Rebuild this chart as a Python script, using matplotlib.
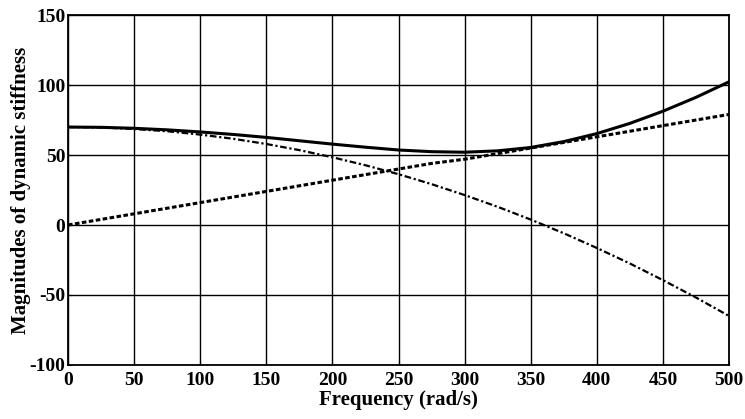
import numpy as np
import matplotlib
matplotlib.use("Agg")
from matplotlib import pyplot as plt

# frequency samples (rad/s) and magnitudes
freq = [0, 25, 50, 75, 100, 125, 150, 175, 200, 225, 250, 275, 300,
        325, 350, 375, 400, 425, 450, 475, 500]
total = [70.0, 69.8, 69.1, 68.0, 66.5, 64.7, 62.6, 60.2, 57.8, 55.6, 53.6,
         52.4, 52.0, 53.0, 55.4, 59.6, 65.3, 72.6, 81.3, 91.2, 102.3]
imag_part = [0, 4, 8, 12, 16, 20, 24, 28, 32, 36, 40, 44, 47, 51, 55,
             59, 63, 67, 71, 75, 79]
real_part = [70.0, 69.7, 68.6, 67.0, 64.6, 61.6, 57.9, 53.5, 48.4, 42.7, 36.3,
             29.2, 21.4, 13.0, 3.9, -5.9, -16.4, -27.5, -39.4, -51.8, -65.0]

plt.rcParams['font.family'] = ['Liberation Serif', 'DejaVu Serif']
plt.rcParams['font.weight'] = 'bold'
plt.rcParams['axes.unicode_minus'] = False

fig = plt.figure(figsize=(7.45, 4.19), dpi=100)
ax = fig.add_axes([0.0913, 0.129, 0.8872, 0.835])

ax.plot(freq, total, color='black', lw=2.2, linestyle='-')
ax.plot(freq, imag_part, color='black', lw=2.2, linestyle=(0, (1.5, 0.8)))
ax.plot(freq, real_part, color='black', lw=1.6, linestyle=(0, (3, 1.2, 1, 1.2)))

ax.set_xlim(0, 500)
ax.set_ylim(-100, 150)
ax.set_xticks(np.arange(0, 501, 50))
ax.set_yticks(np.arange(-100, 151, 50))
ax.grid(True, color='black', lw=1.0, linestyle='-')
ax.tick_params(direction='in', length=3, labelsize=14, pad=2)
ax.tick_params(axis='x', pad=5)
for lbl in ax.get_xticklabels() + ax.get_yticklabels():
    lbl.set_fontweight('bold')
for s in ax.spines.values():
    s.set_linewidth(1.3)

ax.set_xlabel('Frequency (rad/s)', fontsize=15, fontweight='bold', labelpad=1)
ax.set_ylabel('Magnitudes of dynamic stiffness', fontsize=15, fontweight='bold', labelpad=-1)

fig.savefig('out.png', dpi=100)
